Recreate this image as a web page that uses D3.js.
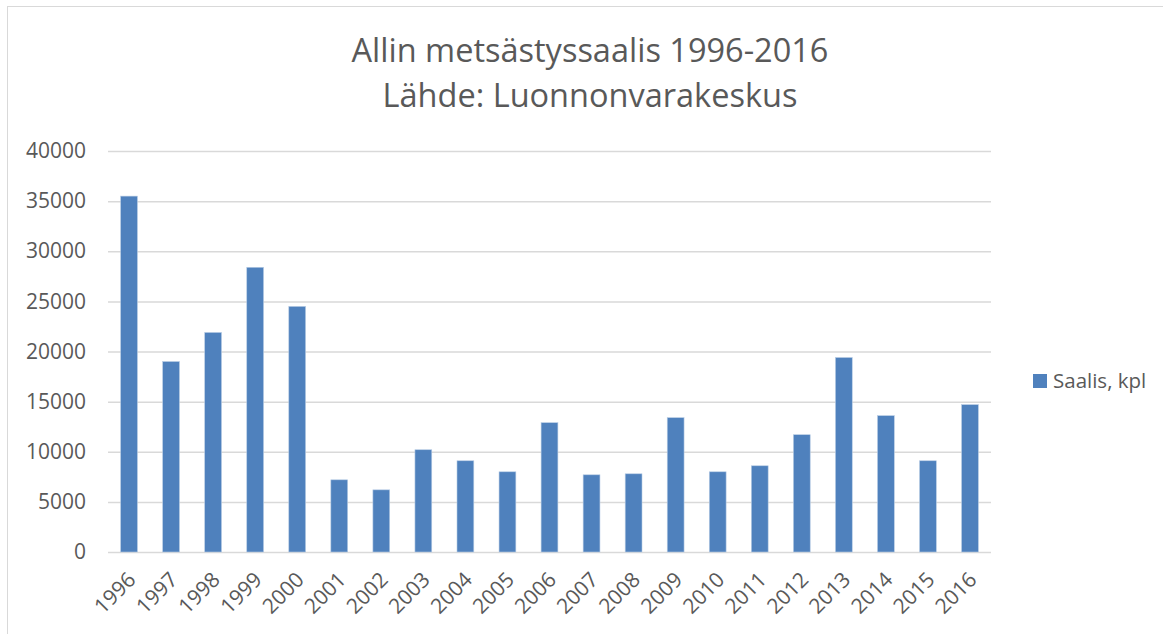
<!DOCTYPE html>
<html>
<head>
    <meta charset="utf-8">
    <script src="https://d3js.org/d3.v7.min.js"></script>
    <title>Allin metsästyssaalis</title>
    <style>
        body { margin: 0; background: #fff; }
        text { font-family: "Open Sans", "Noto Sans", sans-serif; fill: #595959; }
    </style>
</head>
<body>
    <div id="chart"></div>
    <script>
        // data
        const years = ["1996", "1997", "1998", "1999", "2000", "2001", "2002", "2003", "2004", "2005", "2006",
            "2007", "2008", "2009", "2010", "2011", "2012", "2013", "2014", "2015", "2016"];
        const saalis = [35500, 19000, 21900, 28400, 24500, 7200, 6200, 10200, 9100, 8000, 12900,
            7700, 7800, 13400, 8000, 8600, 11700, 19400, 13600, 9100, 14700];
        const yTicks = [0, 5000, 10000, 15000, 20000, 25000, 30000, 35000, 40000];
        const titleLines = ["Allin metsästyssaalis 1996-2016", "Lähde: Luonnonvarakeskus"];
        const seriesName = "Saalis, kpl";

        const width = 1163;
        const height = 634;
        const margin = { top: 151, right: 172, bottom: 82, left: 108 };
        const barColor = "#4f81bd";

        const svg = d3.select("#chart").append("svg")
            .attr("width", width)
            .attr("height", height);

        // chart frame
        svg.append("rect")
            .attr("x", 7.5).attr("y", 6.5)
            .attr("width", width + 20).attr("height", height + 20)
            .attr("fill", "none")
            .attr("stroke", "#d9d9d9");

        const x = d3.scaleBand()
            .domain(years)
            .range([margin.left, width - margin.right])
            .paddingInner(0.6)
            .paddingOuter(0.3);

        const y = d3.scaleLinear()
            .domain([0, 40000])
            .range([height - margin.bottom, margin.top]);

        // gridlines + y labels
        const yAxis = svg.append("g")
            .attr("transform", `translate(${margin.left},0)`)
            .call(d3.axisLeft(y).tickValues(yTicks).tickSize(-(width - margin.right - margin.left)).tickPadding(22).tickFormat(d3.format("d")));
        yAxis.select(".domain").remove();
        yAxis.selectAll(".tick line").attr("stroke", "#d9d9d9").attr("stroke-width", 1.5);
        yAxis.selectAll(".tick text")
            .style("font-size", "21px")
            .attr("fill", "#595959");

        // bars
        svg.append("g")
            .selectAll("rect")
            .data(saalis)
            .join("rect")
            .attr("x", (d, i) => x(years[i]))
            .attr("y", d => y(d))
            .attr("width", x.bandwidth())
            .attr("height", d => y(0) - y(d))
            .attr("fill", barColor)
            .attr("stroke", "#b9cde5")
            .attr("stroke-width", 0.6);

        // x axis labels
        const xAxis = svg.append("g")
            .attr("transform", `translate(0,${height - margin.bottom})`)
            .call(d3.axisBottom(x).tickSize(0).tickPadding(0));
        xAxis.select(".domain").remove();
        xAxis.selectAll(".tick text")
            .style("font-size", "21px")
            .attr("fill", "#595959")
            .attr("text-anchor", "end")
            .attr("dy", 0)
            .attr("transform", "translate(8,29) rotate(-45)");

        // title
        svg.append("g")
            .selectAll("text")
            .data(titleLines)
            .join("text")
            .attr("x", 590)
            .attr("y", (d, i) => 62 + i * 45)
            .attr("text-anchor", "middle")
            .style("font-size", "32.5px")
            .text(d => d);

        // legend
        const legend = svg.append("g").attr("transform", "translate(1033,374)");
        legend.append("rect")
            .attr("width", 14).attr("height", 14)
            .attr("fill", barColor);
        legend.append("text")
            .attr("x", 20).attr("y", 14)
            .style("font-size", "20.5px")
            .text(seriesName);
    </script>
</body>
</html>
